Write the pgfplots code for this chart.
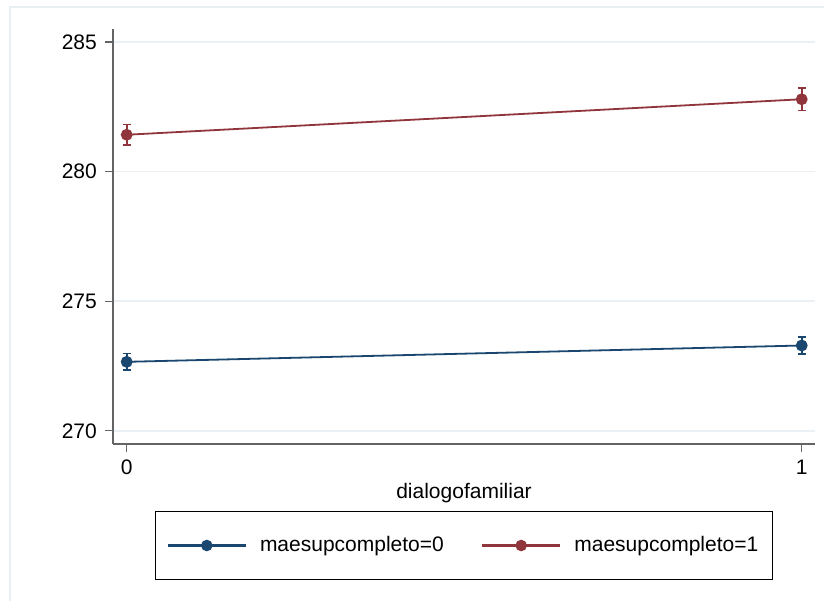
\documentclass[border=0pt]{standalone}
\usepackage{fontspec}
\setmainfont{Liberation Sans}
\usepackage{pgfplots}
\pgfplotsset{compat=1.18}
\definecolor{snavy}{RGB}{26,71,111}
\definecolor{smaroon}{RGB}{144,53,59}
\definecolor{sgrid}{RGB}{234,240,243}
\definecolor{sframe}{RGB}{232,240,242}
\definecolor{saxis}{RGB}{100,100,100}
\begin{document}
\fontsize{21}{25}\selectfont
\begin{tikzpicture}
\useasboundingbox (0pt,0pt) rectangle (824pt,-601pt);
\fill[white] (0pt,0pt) rectangle (824pt,-601pt);
\draw[sframe, line width=1.5pt] (10pt,-601pt) -- (10pt,-7pt) -- (824pt,-7pt);
\begin{axis}[
  at={(113pt,-444pt)}, anchor=south west,
  scale only axis, width=702pt, height=415pt,
  xmin=-0.0203, xmax=1.0197, ymin=269.49, ymax=285.5,
  axis lines*=left,
  axis line style={saxis, line width=1.4pt},
  xtick={0,1}, ytick={270,275,280,285},
  tick align=outside, major tick length=8pt,
  tick style={saxis, line width=1.2pt},
  ymajorgrids, grid style={sgrid, line width=1.5pt},
  /pgf/number format/assume math mode=true,
  ticklabel style={font=\fontsize{21}{25}\selectfont},
  yticklabel style={xshift=-1pt},
  xticklabel style={yshift=-1pt},
  xlabel={dialogofamiliar},
  xlabel style={font=\fontsize{21}{25}\selectfont, yshift=6pt},
  legend columns=2,
  legend style={at={(0.5,-0.2446)}, anchor=center, draw=black, line width=1pt,
    font=\fontsize{21}{25}\selectfont, inner xsep=11pt, inner ysep=24.5pt,
    /tikz/every even column/.append style={column sep=34pt},
    nodes={inner sep=0pt}},
  legend cell align=left,
  legend image code/.code={
    \draw[#1, mark=none, line width=2.4pt] (0pt,0pt) -- (78pt,0pt);
    \draw[#1, only marks, line width=1.5pt] plot coordinates {(39pt,0pt)};
  },
]
\addplot[snavy, line width=1.8pt, mark=*, mark size=5pt,
  error bars/.cd, y dir=both, y explicit,
  error bar style={line width=1.6pt, snavy},
  error mark options={rotate=90, mark size=4pt, line width=1.6pt, snavy}]
  table[x=x, y=y, y error=e] {
x y e
0 272.66 0.32
1 273.29 0.33
};
\addlegendentry{\makebox[200pt][l]{\hspace{13pt}maesupcompleto=0}}
\addplot[smaroon, line width=1.8pt, mark=*, mark size=5pt,
  error bars/.cd, y dir=both, y explicit,
  error bar style={line width=1.6pt, smaroon},
  error mark options={rotate=90, mark size=4pt, line width=1.6pt, smaroon}]
  table[x=x, y=y, y error=e] {
x y e
0 281.42 0.40
1 282.79 0.43
};
\addlegendentry{\makebox[200pt][l]{\hspace{13pt}maesupcompleto=1}}
\end{axis}
\end{tikzpicture}
\end{document}
